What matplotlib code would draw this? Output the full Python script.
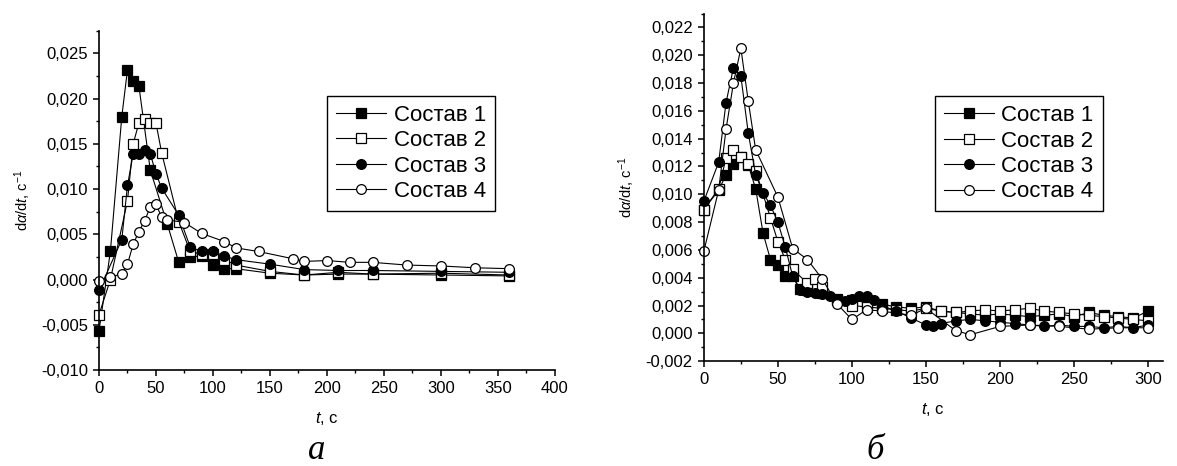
import matplotlib
matplotlib.use('Agg')
import matplotlib.pyplot as plt
from matplotlib.ticker import MultipleLocator, FuncFormatter

plt.rcParams['font.family'] = ['Liberation Sans', 'DejaVu Sans']
plt.rcParams['mathtext.fontset'] = 'custom'
plt.rcParams['mathtext.rm'] = 'Liberation Sans'
plt.rcParams['mathtext.it'] = 'Liberation Sans:italic'
plt.rcParams['axes.unicode_minus'] = False

labels = ['Состав 1', 'Состав 2', 'Состав 3', 'Состав 4']

# ----- панель а -----
t1_a = [0, 10, 20, 25, 30, 35, 45, 60, 70, 80, 90, 100, 110, 120, 150, 180, 210, 240, 300, 360]
v1_a = [-0.0057, 0.0031, 0.0180, 0.0232, 0.0220, 0.0214, 0.0121, 0.0061, 0.0019, 0.0025,
        0.0026, 0.0016, 0.0012, 0.0012, 0.0007, 0.0005, 0.0006, 0.0006, 0.0005, 0.0004]

t2_a = [0, 10, 25, 30, 35, 40, 45, 50, 55, 70, 80, 90, 100, 110, 120, 150, 180, 210, 240, 300, 360]
v2_a = [-0.0039, 0.0000, 0.0087, 0.0150, 0.0173, 0.0178, 0.0173, 0.0173, 0.0140, 0.0064, 0.0031,
        0.0028, 0.0028, 0.0022, 0.0016, 0.0009, 0.0005, 0.0008, 0.0006, 0.0007, 0.0005]

t3_a = [0, 20, 25, 30, 35, 40, 45, 50, 55, 70, 80, 90, 100, 110, 120, 150, 180, 210, 240, 300, 360]
v3_a = [-0.0012, 0.0044, 0.0104, 0.0139, 0.0139, 0.0143, 0.0139, 0.0117, 0.0101, 0.0071, 0.0036,
        0.0031, 0.0031, 0.0026, 0.0022, 0.0017, 0.0011, 0.0010, 0.0010, 0.0009, 0.0008]

t4_a = [0, 10, 20, 25, 30, 35, 40, 45, 50, 55, 60, 75, 90, 110, 120, 140, 170, 180, 200, 220,
        240, 270, 300, 330, 360]
v4_a = [-0.0002, 0.0003, 0.0006, 0.0017, 0.0039, 0.0053, 0.0065, 0.0080, 0.0083, 0.0069, 0.0066,
        0.0063, 0.0051, 0.0042, 0.0035, 0.0031, 0.0023, 0.0020, 0.0021, 0.0019, 0.0019, 0.0016,
        0.0015, 0.0013, 0.0012]

# ----- панель б -----
t1_b = [0, 10, 15, 20, 25, 30, 35, 40, 45, 50, 55, 60, 65, 70, 80, 90, 100, 110, 120, 130, 140,
        150, 160, 170, 180, 190, 200, 210, 220, 230, 240, 250, 260, 270, 280, 290, 300]
v1_b = [0.0089, 0.0103, 0.0114, 0.0122, 0.0127, 0.0121, 0.0104, 0.0072, 0.0053, 0.0049, 0.0041,
        0.0041, 0.0032, 0.0031, 0.0029, 0.0025, 0.0024, 0.0022, 0.0021, 0.0019, 0.0018, 0.0019,
        0.0016, 0.0015, 0.0014, 0.0013, 0.0014, 0.0013, 0.0012, 0.0013, 0.0014, 0.0012, 0.0015,
        0.0013, 0.0012, 0.0011, 0.0016]

t2_b = [0, 10, 15, 20, 25, 30, 35, 45, 50, 55, 60, 70, 75, 80, 90, 100, 110, 120, 130, 140, 150,
        160, 170, 180, 190, 200, 210, 220, 230, 240, 250, 260, 270, 280, 290, 300]
v2_b = [0.0089, 0.0104, 0.0126, 0.0132, 0.0127, 0.0122, 0.0117, 0.0083, 0.0066, 0.0053, 0.0046,
        0.0036, 0.0039, 0.0033, 0.0024, 0.0020, 0.0019, 0.0018, 0.0017, 0.0016, 0.0018, 0.0016,
        0.0015, 0.0016, 0.0017, 0.0016, 0.0017, 0.0018, 0.0016, 0.0015, 0.0014, 0.0013, 0.0012,
        0.0011, 0.0010, 0.0009]

t3_b = [0, 10, 15, 20, 25, 30, 35, 40, 45, 50, 55, 60, 65, 70, 75, 80, 85, 90, 95, 100, 105,
        110, 115, 120, 130, 140, 150, 155, 160, 170, 180, 190, 200, 210, 220, 230, 240, 250, 260,
        270, 280, 290, 300]
v3_b = [0.0095, 0.0123, 0.0166, 0.0191, 0.0185, 0.0144, 0.0114, 0.0101, 0.0092, 0.0080, 0.0062,
        0.0041, 0.0031, 0.0030, 0.0029, 0.0028, 0.0027, 0.0025, 0.0023, 0.0025, 0.0027, 0.0027,
        0.0024, 0.0020, 0.0016, 0.0011, 0.0006, 0.0005, 0.0007, 0.0009, 0.0010, 0.0009, 0.0008,
        0.0007, 0.0006, 0.0005, 0.0006, 0.0005, 0.0005, 0.0004, 0.0005, 0.0004, 0.0006]

t4_b = [0, 10, 15, 20, 25, 30, 35, 50, 60, 70, 80, 90, 100, 110, 120, 140, 150, 170, 180, 200,
        220, 240, 260, 280, 300]
v4_b = [0.0059, 0.0103, 0.0147, 0.0180, 0.0205, 0.0167, 0.0132, 0.0098, 0.0061, 0.0053, 0.0039,
        0.0021, 0.0010, 0.0017, 0.0016, 0.0013, 0.0018, 0.0002, -0.0001, 0.0005, 0.0006, 0.0005,
        0.0003, 0.0004, 0.0004]

markers = ['s', 's', 'o', 'o']
faces = ['black', 'white', 'black', 'white']


def comma_fmt(v, pos):
    if abs(v) < 1e-9:
        v = 0.0
    return f'{v:.3f}'.replace('.', ',')


def style_axis(ax, xmax, ymin, ymax, ymajor, yminor):
    ax.set_xlim(0, xmax)
    ax.set_ylim(ymin, ymax)
    ax.spines['top'].set_visible(False)
    ax.spines['right'].set_visible(False)
    ax.spines['left'].set_linewidth(1.2)
    ax.spines['bottom'].set_linewidth(1.2)
    ax.xaxis.set_major_locator(MultipleLocator(50))
    ax.xaxis.set_minor_locator(MultipleLocator(25))
    ax.yaxis.set_major_locator(MultipleLocator(ymajor))
    ax.yaxis.set_minor_locator(MultipleLocator(yminor))
    ax.yaxis.set_major_formatter(FuncFormatter(comma_fmt))
    ax.tick_params(which='major', direction='out', length=4.5, width=1.1, labelsize=12)
    ax.tick_params(which='minor', direction='out', length=2.5, width=1.0)
    ax.set_xlabel(r'$t$, с', fontsize=12, labelpad=10)
    ax.set_ylabel(r'd$\alpha$/d$t$, с$^{-1}$', fontsize=10.5, labelpad=6)


fig = plt.figure(figsize=(11.77, 4.66), dpi=100)
ax1 = fig.add_axes([0.0841, 0.206, 0.3874, 0.728])
ax2 = fig.add_axes([0.598, 0.225, 0.39, 0.746])

data_a = [(t1_a, v1_a), (t2_a, v2_a), (t3_a, v3_a), (t4_a, v4_a)]
data_b = [(t1_b, v1_b), (t2_b, v2_b), (t3_b, v3_b), (t4_b, v4_b)]

for ax, data in [(ax1, data_a), (ax2, data_b)]:
    for (t, v), m, fc, lab in zip(data, markers, faces, labels):
        ax.plot(t, v, color='black', lw=0.8, marker=m, markersize=7,
                markerfacecolor=fc, markeredgecolor='black', markeredgewidth=0.9,
                label=lab, clip_on=False)

style_axis(ax1, 400, -0.010, 0.0275, 0.005, 0.0025)
style_axis(ax2, 310, -0.002, 0.023, 0.002, 0.001)

for ax, anchor in [(ax1, (0.5, 0.469)), (ax2, (0.503, 0.431))]:
    leg = ax.legend(loc='lower left', bbox_to_anchor=anchor, borderaxespad=0,
                    fontsize=16, fancybox=False, framealpha=1, edgecolor='black',
                    handlelength=2.25, handletextpad=0.35, labelspacing=0.2,
                    borderpad=0.4, numpoints=1)
    leg.get_frame().set_linewidth(1.0)

fig.text(317 / 1177, 1 - 459 / 466, 'а', fontsize=25, style='italic',
         family='Liberation Serif', ha='center', va='baseline')
fig.text(875 / 1177, 1 - 459 / 466, 'б', fontsize=25, style='italic',
         family='Liberation Serif', ha='center', va='baseline')

fig.savefig('out.png', dpi=100)
